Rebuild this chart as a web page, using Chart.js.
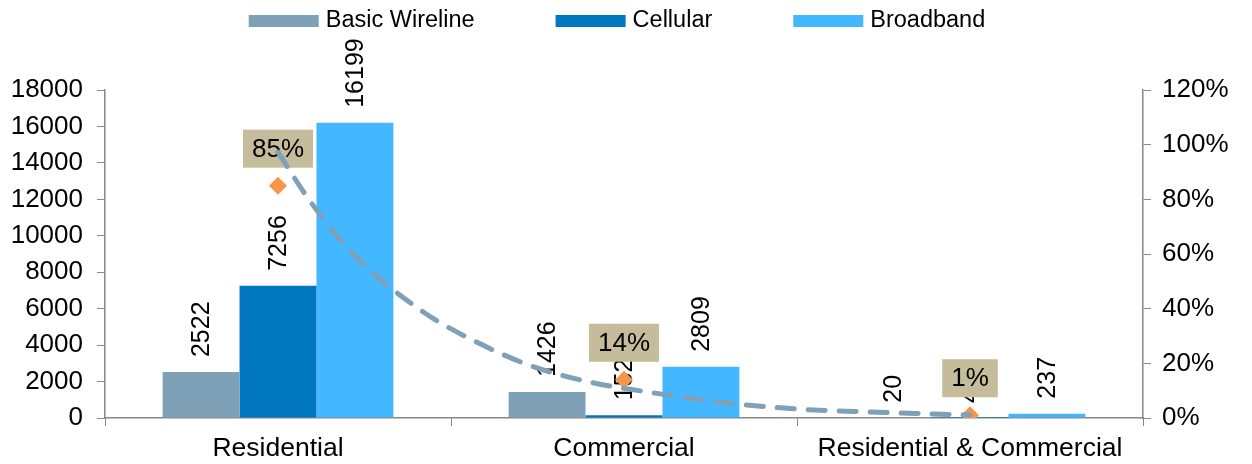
<!DOCTYPE html>
<html>
<head>
<meta charset="utf-8">
<script src="https://cdn.jsdelivr.net/npm/chart.js@4/dist/chart.umd.min.js"></script>
<style>
  html, body { margin: 0; padding: 0; background: #fff; }
  #wrap { position: relative; width: 1252px; height: 464px; }
  #wrap canvas { position: absolute; left: 0; top: 0; }
</style>
</head>
<body>
<div id="wrap">
  <canvas id="chart" width="1252" height="464"></canvas>
  <canvas id="trend" width="1252" height="464"></canvas>
</div>
<script>
// ---- data ----
const categories = ['Residential', 'Commercial', 'Residential & Commercial'];
const basicWireline = [2522, 1426, 20];
const cellular = [7256, 152, 4];
const broadband = [16199, 2809, 237];
const shares = [85, 14, 1];          // orange diamonds, right axis (%)
// dashed trend curve, read at positions along the category axis (0 = Residential ... 2 = R&C)
const trendX = [0, 0.09, 0.22, 0.42, 0.58, 0.74, 0.9, 1.09, 1.3, 1.5, 1.71, 1.89, 2];
const trendY = [97.3, 79.8, 59.6, 38.8, 27.4, 18.7, 13.2, 9.1, 5.5, 3.3, 2.2, 1.5, 1.1];
const leftTicks = { min: 0, max: 18000, step: 2000 };
const rightTicks = { min: 0, max: 120, step: 20 };

const FONT = "'Liberation Sans', Arial, sans-serif";
const COLORS = {
  wireline: '#7fa1b8',
  cellular: '#0077be',
  broadband: '#43b7ff',
  diamond: '#f79646',
  labelBox: '#c4bc9a',
  axis: '#888888',
};
// plot area edges shared by both canvases
const AREA = { top: 90, left: 105, right: 109, bottom: 46 };

Chart.defaults.font.family = FONT;
Chart.defaults.font.size = 26;
Chart.defaults.color = '#000';

// rotated value labels above bars + tan boxes over the diamonds
const labelPlugin = {
  id: 'labels',
  afterDatasetDraw(chart, args) {
    if (args.meta.type !== 'bar' || args.index !== 0) return;
    const ctx = chart.ctx;
    ctx.save();
    ctx.font = '25px ' + FONT;
    ctx.fillStyle = '#000';
    ctx.textAlign = 'left';
    ctx.textBaseline = 'middle';
    chart.data.datasets.forEach((ds, di) => {
      const meta = chart.getDatasetMeta(di);
      if (meta.type !== 'bar') return;
      meta.data.forEach((bar, i) => {
        ctx.save();
        ctx.translate(bar.x, bar.y - 15);
        ctx.rotate(-Math.PI / 2);
        ctx.fillText(String(ds.data[i]), 0, 1);
        ctx.restore();
      });
    });
    // percentage boxes
    const dmeta = chart.getDatasetMeta(3);
    ctx.font = '26px ' + FONT;
    ctx.textAlign = 'center';
    dmeta.data.forEach((pt, i) => {
      const txt = shares[i] + '%';
      const w = ctx.measureText(txt).width + 18;
      const h = 38;
      const bottom = pt.y - 18;
      ctx.fillStyle = COLORS.labelBox;
      ctx.fillRect(pt.x - w / 2, bottom - h, w, h);
      ctx.fillStyle = '#000';
      ctx.fillText(txt, pt.x, bottom - h / 2 + 1);
    });
    ctx.restore();
  },
  afterDraw(chart) {
    // legend (bar series only)
    const ctx = chart.ctx;
    ctx.save();
    ctx.font = '23.5px ' + FONT;
    ctx.textBaseline = 'middle';
    ctx.textAlign = 'left';
    const items = chart.data.datasets.filter(d => d.type === 'bar');
    const boxW = 70, boxH = 12, gap = 7, spacing = 81;
    let total = 0;
    items.forEach((d, i) => {
      total += boxW + gap + ctx.measureText(d.label).width + (i ? spacing : 0);
    });
    const center = 617;
    let x = center - total / 2;
    const y = 21;
    items.forEach(d => {
      ctx.fillStyle = d.backgroundColor;
      ctx.fillRect(x, y - boxH / 2, boxW, boxH);
      ctx.fillStyle = '#000';
      ctx.fillText(d.label, x + boxW + gap, y);
      x += boxW + gap + ctx.measureText(d.label).width + spacing;
    });
    ctx.restore();
  }
};

// main chart: bars, diamonds, axes
new Chart(document.getElementById('chart'), {
  type: 'bar',
  data: {
    labels: categories,
    datasets: [
      { type: 'bar', label: 'Basic Wireline', data: basicWireline, backgroundColor: COLORS.wireline, order: 2 },
      { type: 'bar', label: 'Cellular', data: cellular, backgroundColor: COLORS.cellular, order: 2 },
      { type: 'bar', label: 'Broadband', data: broadband, backgroundColor: COLORS.broadband, order: 2 },
      {
        type: 'line', label: 'Share', data: shares, yAxisID: 'y1', order: 1,
        showLine: false, pointStyle: 'rectRot', pointRadius: 9,
        pointBackgroundColor: COLORS.diamond, pointBorderWidth: 0,
      },
    ],
  },
  options: {
    responsive: false,
    animation: false,
    layout: { padding: { top: AREA.top, left: 0, right: 0, bottom: 0 } },
    plugins: { legend: { display: false }, tooltip: { enabled: false } },
    datasets: { bar: { barPercentage: 1, categoryPercentage: 0.667 } },
    scales: {
      x: {
        grid: { offset: true, drawOnChartArea: false, tickLength: 8, color: COLORS.axis },
        border: { color: COLORS.axis, width: 1.5 },
        ticks: { padding: 7, font: { size: 26.5 } },
        afterFit(scale) { scale.height = AREA.bottom; },
      },
      y: {
        position: 'left',
        min: leftTicks.min, max: leftTicks.max,
        ticks: { stepSize: leftTicks.step, padding: 14, callback: v => String(v) },
        grid: { drawOnChartArea: false, tickLength: 8, color: COLORS.axis },
        border: { color: COLORS.axis, width: 1.5 },
        afterFit(scale) { scale.width = AREA.left; },
      },
      y1: {
        position: 'right',
        min: rightTicks.min, max: rightTicks.max,
        ticks: { stepSize: rightTicks.step, padding: 11, callback: v => v + '%' },
        grid: { drawOnChartArea: false, tickLength: 8, color: COLORS.axis },
        border: { color: COLORS.axis, width: 1.5 },
        afterFit(scale) { scale.width = AREA.right; },
      },
    },
  },
  plugins: [labelPlugin],
});

// overlay: dashed trend curve on a linear x scale over the same plot area
new Chart(document.getElementById('trend'), {
  type: 'line',
  data: {
    datasets: [{
      label: 'Trend',
      data: trendX.map((x, i) => ({ x: x, y: trendY[i] })),
      borderColor: COLORS.wireline, borderWidth: 5, borderDash: [17, 14],
      borderCapStyle: 'round', pointRadius: 0, cubicInterpolationMode: 'monotone', fill: false,
    }],
  },
  options: {
    responsive: false,
    animation: false,
    layout: { padding: AREA },
    plugins: { legend: { display: false }, tooltip: { enabled: false } },
    scales: {
      x: { type: 'linear', display: false, min: -0.5, max: 2.5 },
      y: { type: 'linear', display: false, min: rightTicks.min, max: rightTicks.max },
    },
  },
});
</script>
</body>
</html>
